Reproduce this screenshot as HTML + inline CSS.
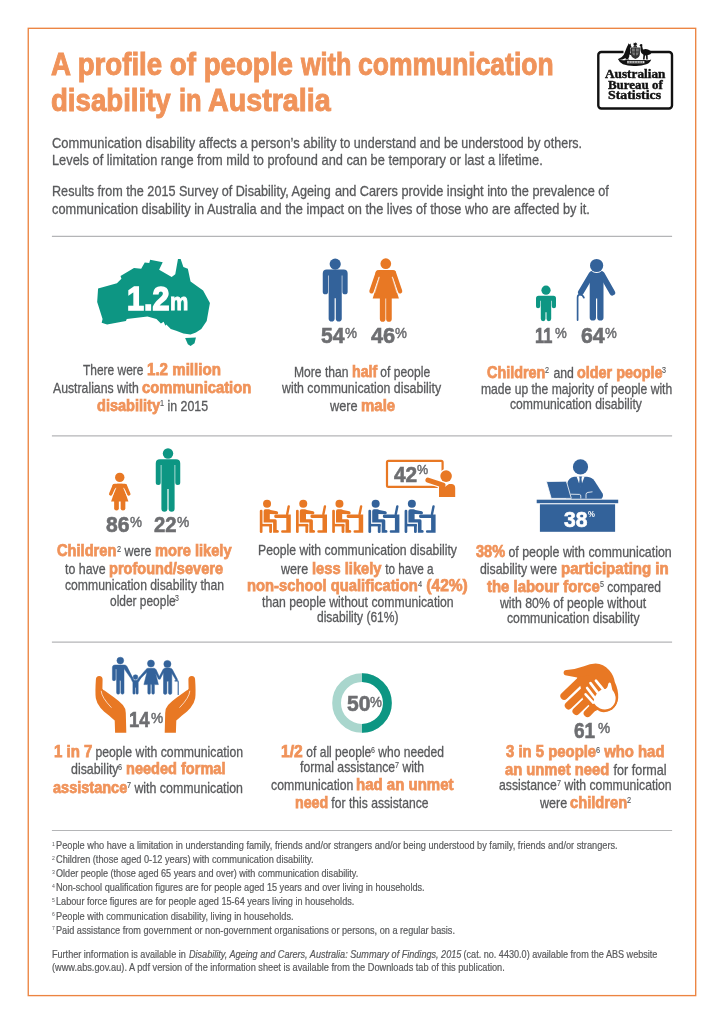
<!DOCTYPE html>
<html><head><meta charset="utf-8"><title>A profile of people with communication disability in Australia</title>
<style>
html,body{margin:0;padding:0;background:#fff;}
body{width:724px;height:1024px;position:relative;overflow:hidden;font-family:"Liberation Sans", sans-serif;}
.x{position:absolute;white-space:pre;line-height:1;transform-origin:0 50%;}
svg#art{position:absolute;left:0;top:0;}
#txt{position:absolute;left:0;top:0;width:724px;height:1024px;will-change:transform;}
</style></head><body>
<svg id="art" width="724" height="1024" viewBox="0 0 724 1024">
<g fill="none" stroke="#b4b5b7" stroke-width="1.2"><line x1="51.9" y1="236.4" x2="672.1" y2="236.4"/><line x1="51.9" y1="435.9" x2="672.1" y2="435.9"/><line x1="51.9" y1="642.1" x2="672.1" y2="642.1"/><line x1="51.9" y1="830.5" x2="672.1" y2="830.5"/></g>
<rect x="28.25" y="28.3" width="667.45" height="967.3" fill="none" stroke="#ec8441" stroke-width="1.35"/>
<polygon fill="#0d9683" points="98.08,288.6 116.93,283.21 121.42,278.73 120.52,276.03 133.99,267.95 141.17,268.85 144.76,262.57 149.25,262.93 150.14,259.87 162.71,262.21 159.12,269.75 171.69,276.93 175.28,274.24 177.97,258.98 180.66,258.98 183.36,267.06 187.85,268.85 190.54,281.42 203.11,290.39 209.93,302.96 208.49,311.04 206.7,320.92 201.31,328.99 195.92,332.59 190.54,334.38 183.36,333.48 176.18,330.79 170.79,328.99 166.3,324.51 165.4,325.76 163.61,321.81 160.92,323.61 156.43,319.12 147.45,316.43 126.8,319.12 125.91,320.92 107.06,324.51 101.67,322.71 102.57,319.12 97.18,302.06"/>
<polygon fill="#0d9683" points="185.15,337.97 195.92,337.61 194.49,343.36 190.54,346.05 187.85,344.25"/>
<g fill="#33629a"><circle cx="335.2" cy="264.1" r="5.6"/><path d="M322.75 273.4Q322.75 269.4 326.75 269.4L343.65 269.4Q347.65 269.4 347.65 273.4L347.65 291.65A2.65 2.65 0 0 1 342.35 291.65L342.35 275.5L341.75 275.5L341.75 318.72A2.98 2.98 0 0 1 335.8 318.72L335.8 298.3L334.6 298.3L334.6 318.72A2.98 2.98 0 0 1 328.65 318.72L328.65 275.5L328.05 275.5L328.05 291.65A2.65 2.65 0 0 1 322.75 291.65Z"/></g>
<g fill="#e87824"><circle cx="385.8" cy="263.7" r="5.35"/><rect x="375.6" y="270.1" width="20.4" height="6.6" rx="3.4"/><polygon points="381.5,270.1 390.1,270.1 398.9,298.6 372.7,298.6"/><line x1="377.8" y1="272.7" x2="371.5" y2="291.3" stroke="#e87824" stroke-width="4.4" stroke-linecap="round"/><line x1="393.8" y1="272.7" x2="400.1" y2="291.3" stroke="#e87824" stroke-width="4.4" stroke-linecap="round"/><path d="M379.85 297.6 L379.85 318.9 A2.8 2.8 0 0 0 385.45 318.9 L385.45 297.6 Z"/><path d="M386.15 297.6 L386.15 318.9 A2.8 2.8 0 0 0 391.75 318.9 L391.75 297.6 Z"/><line x1="379.4" y1="277.4" x2="374.8" y2="292.6" stroke="#fff" stroke-width="0.55" stroke-linecap="round" stroke-opacity="0.85"/><line x1="392.2" y1="277.4" x2="396.8" y2="292.6" stroke="#fff" stroke-width="0.55" stroke-linecap="round" stroke-opacity="0.85"/></g>
<g fill="#0d9683"><circle cx="546" cy="290.2" r="4.6"/><path d="M536 298.4Q536 295.8 538.6 295.8L553.4 295.8Q556 295.8 556 298.4L556 306.2A2.1 2.1 0 0 1 551.8 306.2L551.8 300.63L551.2 300.63L551.2 318.85A2.35 2.35 0 0 1 546.5 318.85L546.5 312.3L545.5 312.3L545.5 318.85A2.35 2.35 0 0 1 540.8 318.85L540.8 300.63L540.2 300.63L540.2 306.2A2.1 2.1 0 0 1 536 306.2Z"/></g>
<g fill="#33629a"><path d="M589.7 274.6Q589.7 270.6 593.7 270.6L599.5 270.6Q603.5 270.6 603.5 274.6L603.5 317.45A3.15 3.15 0 0 1 597.2 317.45L597.2 298.6L596 298.6L596 317.45A3.15 3.15 0 0 1 589.7 317.45 Z"/><line x1="591.6" y1="274.2" x2="580.9" y2="292.2" stroke="#33629a" stroke-width="5.8" stroke-linecap="round"/><line x1="601.8" y1="274.2" x2="612.3" y2="292.6" stroke="#33629a" stroke-width="5.8" stroke-linecap="round"/><path d="M577.6 320.1 L577.6 297.5 Q577.6 294.6 580 294.6 Q582.6 294.6 583.9 297.6" fill="none" stroke="#33629a" stroke-width="1.7" stroke-linecap="round"/><circle cx="596.6" cy="265.5" r="7.6" fill="#fff"/><circle cx="596.6" cy="265.5" r="6.6"/></g>
<g fill="#e87824"><circle cx="119.75" cy="477.4" r="4.7"/><rect x="112.4" y="483.8" width="14.7" height="5.4" rx="2.2"/><polygon points="117.15,483.8 122.35,483.8 128.4,501.6 111.1,501.6"/><line x1="114.2" y1="486" x2="110.8" y2="493.9" stroke="#e87824" stroke-width="3.6" stroke-linecap="round"/><line x1="125.3" y1="486" x2="128.7" y2="493.9" stroke="#e87824" stroke-width="3.6" stroke-linecap="round"/><path d="M114.15 500.6 L114.15 508.15 A2.35 2.35 0 0 0 118.85 508.15 L118.85 500.6 Z"/><path d="M120.65 500.6 L120.65 508.15 A2.35 2.35 0 0 0 125.35 508.15 L125.35 500.6 Z"/><line x1="115.75" y1="488.2" x2="112.55" y2="495.4" stroke="#fff" stroke-width="0.9" stroke-linecap="round" stroke-opacity="0.85"/><line x1="123.75" y1="488.2" x2="126.95" y2="495.4" stroke="#fff" stroke-width="0.9" stroke-linecap="round" stroke-opacity="0.85"/></g>
<g fill="#0d9683"><circle cx="168" cy="453.5" r="5.2"/><path d="M155.75 463.5Q155.75 459.3 159.95 459.3L176.05 459.3Q180.25 459.3 180.25 463.5L180.25 482.4A2.5 2.5 0 0 1 175.25 482.4L175.25 465.05L174.6 465.05L174.6 508.8A3 3 0 0 1 168.6 508.8L168.6 488.9L167.4 488.9L167.4 508.8A3 3 0 0 1 161.4 508.8L161.4 465.05L160.75 465.05L160.75 482.4A2.5 2.5 0 0 1 155.75 482.4Z"/></g>
<g fill="#e87824" transform="translate(0 0)"><circle cx="267.05" cy="503.85" r="4"/><rect x="259.8" y="509.7" width="2.7" height="23.3" rx="1.3"/><rect x="262" y="523.9" width="10" height="2.5"/><rect x="269.2" y="524" width="2.8" height="9" rx="1.3"/><path d="M263.6 511.2Q263.6 509.3 265.5 509.3L268.6 509.3Q269.8 509.3 270.6 509.9L277 511.3Q278.3 511.8 278.2 513Q278 514.3 276.8 514.3L269.8 514L269.8 519.2L275.2 519.2Q276.7 519.2 276.7 520.8L276.7 530L277.6 530Q278.9 530.1 278.9 531.4Q278.9 532.7 277.6 532.7L273.1 532.7L273.1 522.6L263.6 522.6Z"/><path d="M275.5 514.5L290.8 514.5L290.8 532.7L282.3 532.7Q281.1 532.7 281.1 531.5Q281.1 530.3 282.3 530.3L286.3 530.3L286.3 518.1L275.5 518.1Q274.2 518.1 274.2 516.3Q274.2 514.5 275.5 514.5Z"/><line x1="287.2" y1="514" x2="288.7" y2="506.5" stroke="#e87824" stroke-width="2.4" stroke-linecap="round"/></g>
<g fill="#e87824" transform="translate(36.2 0)"><circle cx="267.05" cy="503.85" r="4"/><rect x="259.8" y="509.7" width="2.7" height="23.3" rx="1.3"/><rect x="262" y="523.9" width="10" height="2.5"/><rect x="269.2" y="524" width="2.8" height="9" rx="1.3"/><path d="M263.6 511.2Q263.6 509.3 265.5 509.3L268.6 509.3Q269.8 509.3 270.6 509.9L277 511.3Q278.3 511.8 278.2 513Q278 514.3 276.8 514.3L269.8 514L269.8 519.2L275.2 519.2Q276.7 519.2 276.7 520.8L276.7 530L277.6 530Q278.9 530.1 278.9 531.4Q278.9 532.7 277.6 532.7L273.1 532.7L273.1 522.6L263.6 522.6Z"/><path d="M275.5 514.5L290.8 514.5L290.8 532.7L282.3 532.7Q281.1 532.7 281.1 531.5Q281.1 530.3 282.3 530.3L286.3 530.3L286.3 518.1L275.5 518.1Q274.2 518.1 274.2 516.3Q274.2 514.5 275.5 514.5Z"/><line x1="287.2" y1="514" x2="288.7" y2="506.5" stroke="#e87824" stroke-width="2.4" stroke-linecap="round"/></g>
<g fill="#e87824" transform="translate(72.4 0)"><circle cx="267.05" cy="503.85" r="4"/><rect x="259.8" y="509.7" width="2.7" height="23.3" rx="1.3"/><rect x="262" y="523.9" width="10" height="2.5"/><rect x="269.2" y="524" width="2.8" height="9" rx="1.3"/><path d="M263.6 511.2Q263.6 509.3 265.5 509.3L268.6 509.3Q269.8 509.3 270.6 509.9L277 511.3Q278.3 511.8 278.2 513Q278 514.3 276.8 514.3L269.8 514L269.8 519.2L275.2 519.2Q276.7 519.2 276.7 520.8L276.7 530L277.6 530Q278.9 530.1 278.9 531.4Q278.9 532.7 277.6 532.7L273.1 532.7L273.1 522.6L263.6 522.6Z"/><path d="M275.5 514.5L290.8 514.5L290.8 532.7L282.3 532.7Q281.1 532.7 281.1 531.5Q281.1 530.3 282.3 530.3L286.3 530.3L286.3 518.1L275.5 518.1Q274.2 518.1 274.2 516.3Q274.2 514.5 275.5 514.5Z"/><line x1="287.2" y1="514" x2="288.7" y2="506.5" stroke="#e87824" stroke-width="2.4" stroke-linecap="round"/></g>
<g fill="#33629a" transform="translate(108.6 0)"><circle cx="267.05" cy="503.85" r="4"/><rect x="259.8" y="509.7" width="2.7" height="23.3" rx="1.3"/><rect x="262" y="523.9" width="10" height="2.5"/><rect x="269.2" y="524" width="2.8" height="9" rx="1.3"/><path d="M263.6 511.2Q263.6 509.3 265.5 509.3L268.6 509.3Q269.8 509.3 270.6 509.9L277 511.3Q278.3 511.8 278.2 513Q278 514.3 276.8 514.3L269.8 514L269.8 519.2L275.2 519.2Q276.7 519.2 276.7 520.8L276.7 530L277.6 530Q278.9 530.1 278.9 531.4Q278.9 532.7 277.6 532.7L273.1 532.7L273.1 522.6L263.6 522.6Z"/><path d="M275.5 514.5L290.8 514.5L290.8 532.7L282.3 532.7Q281.1 532.7 281.1 531.5Q281.1 530.3 282.3 530.3L286.3 530.3L286.3 518.1L275.5 518.1Q274.2 518.1 274.2 516.3Q274.2 514.5 275.5 514.5Z"/><line x1="287.2" y1="514" x2="288.7" y2="506.5" stroke="#33629a" stroke-width="2.4" stroke-linecap="round"/></g>
<g fill="#33629a" transform="translate(144.8 0)"><circle cx="267.05" cy="503.85" r="4"/><rect x="259.8" y="509.7" width="2.7" height="23.3" rx="1.3"/><rect x="262" y="523.9" width="10" height="2.5"/><rect x="269.2" y="524" width="2.8" height="9" rx="1.3"/><path d="M263.6 511.2Q263.6 509.3 265.5 509.3L268.6 509.3Q269.8 509.3 270.6 509.9L277 511.3Q278.3 511.8 278.2 513Q278 514.3 276.8 514.3L269.8 514L269.8 519.2L275.2 519.2Q276.7 519.2 276.7 520.8L276.7 530L277.6 530Q278.9 530.1 278.9 531.4Q278.9 532.7 277.6 532.7L273.1 532.7L273.1 522.6L263.6 522.6Z"/><path d="M275.5 514.5L290.8 514.5L290.8 532.7L282.3 532.7Q281.1 532.7 281.1 531.5Q281.1 530.3 282.3 530.3L286.3 530.3L286.3 518.1L275.5 518.1Q274.2 518.1 274.2 516.3Q274.2 514.5 275.5 514.5Z"/><line x1="287.2" y1="514" x2="288.7" y2="506.5" stroke="#33629a" stroke-width="2.4" stroke-linecap="round"/></g>
<rect x="387" y="460.8" width="55.6" height="26" rx="1.4" fill="#fff" stroke="#e87824" stroke-width="2.2"/>
<circle cx="446.1" cy="476.1" r="7.1" fill="#fff"/>
<path d="M437.8 498 L437.8 483 L456.4 483 L456.4 498 Z" fill="#fff"/>
<line x1="442.6" y1="484.9" x2="427.9" y2="480.1" stroke="#fff" stroke-width="7.4" stroke-linecap="round"/>
<g fill="#e87824"><circle cx="446.1" cy="476.1" r="5.8"/><path d="M439 497 L439 487.5 Q439 484.5 441.5 484 L445 486.8 L449 484 L452 484 Q455.2 484.4 455.2 488 L455.2 497 Z"/><line x1="443" y1="485.2" x2="427.9" y2="480.1" stroke="#e87824" stroke-width="5.0" stroke-linecap="round"/></g>
<g fill="#33629a"><rect x="536.7" y="499.7" width="81.5" height="3.5"/><rect x="539.9" y="504.3" width="75.2" height="27.5"/><circle cx="580.5" cy="466.9" r="7.6"/><path d="M566 498.8 L567 484 Q568.5 477.5 574 476.8 L587 476.8 Q592 477.3 594.6 481 L602.6 493.5 Q603.8 496.5 601.5 498.8 Z"/><path d="M546.4 481.6 L566.4 481.2 L571.3 498.4 L551.2 498.4 Z" stroke="#fff" stroke-width="0.8"/></g><path d="M576.6 476.6 L580.5 487.2 L584.6 476.6 Z" fill="#fff"/><path d="M579.2 476.6 L581.9 476.6 L581.5 479 L582.3 485.5 L580.5 487.2 L578.8 485.5 L579.6 479 Z" fill="#33629a"/><path d="M570.5 494.2 L579.5 494.4 Q580.8 494.6 580.8 496 L580.8 498.5 M586 498.5 L586 494.6 Q586 492.6 588 492.4 L592.5 491.8" fill="none" stroke="#fff" stroke-width="0.8"/>
<circle cx="362" cy="703" r="25.4" fill="none" stroke="#a9d6cd" stroke-width="8.8"/>
<path d="M362 677.6 A25.4 25.4 0 0 1 362 728.4" fill="none" stroke="#0d9683" stroke-width="8.8"/>
<g id="handL"><path d="M95.9 679.5Q96 675.9 99.2 675.9Q102.6 675.9 102.6 679.5L102.4 688.7Q103.2 690 104.5 690.6L114.2 697.4Q120 701.5 122.9 705.1Q125.8 708.5 125.8 713L126.3 732.7L115.1 732.7L114.7 720.6Q111 717 109.3 715.7Q103 711 100.6 708Q96.5 703 95.8 698.3Q95 692 95.9 679.5Z" fill="#e87824"/><path d="M101.2 691.2Q101.6 697.5 111.2 707.4" fill="none" stroke="#fff" stroke-width="0.7" stroke-linecap="round"/></g>
<g transform="translate(291 0) scale(-1 1)"><path d="M95.9 679.5Q96 675.9 99.2 675.9Q102.6 675.9 102.6 679.5L102.4 688.7Q103.2 690 104.5 690.6L114.2 697.4Q120 701.5 122.9 705.1Q125.8 708.5 125.8 713L126.3 732.7L115.1 732.7L114.7 720.6Q111 717 109.3 715.7Q103 711 100.6 708Q96.5 703 95.8 698.3Q95 692 95.9 679.5Z" fill="#e87824"/><path d="M101.2 691.2Q101.6 697.5 111.2 707.4" fill="none" stroke="#fff" stroke-width="0.7" stroke-linecap="round"/></g>
<g fill="#33629a" stroke="#33629a" stroke-width="0.5" stroke-linejoin="round"><circle cx="120.3" cy="660.6" r="3.4"/><path d="M112.4 667.5Q112.4 665 114.9 665L124.6 665Q126.3 665 127 666.6L132.6 677.6L131 678.6L124 668.6L124 692.8Q124 694.2 122.4 694.2Q120.9 694.2 120.9 692.8L120.9 680.5L119.7 680.5L119.7 692.8Q119.7 694.2 118.2 694.2Q116.6 694.2 116.6 692.8L116.6 669L115.6 669L115.6 679.4Q115.6 680.7 114 680.7Q112.4 680.7 112.4 679.4Z"/><circle cx="135.5" cy="677.1" r="2.4"/><path d="M131 678.8L132.2 677.2L134 680.2L137.1 680.2L139.4 677L140.8 678.2L138.2 682.6L138.2 693.2Q138.2 694.2 137.1 694.2Q136 694.2 136 693.2L136 687.5L135.1 687.5L135.1 693.2Q135.1 694.2 134 694.2Q132.9 694.2 132.9 693.2L132.9 682.6Z"/><circle cx="150.95" cy="663.5" r="3.5"/><path d="M148.4 668.2L153.6 668.2Q155.4 668.2 156.2 669.8L160 678.2L158.6 679.2L155.6 673.4L158.4 684.6L154.4 684.6L154.4 693Q154.4 694.2 153.1 694.2Q151.8 694.2 151.8 693L151.8 684.6L150.4 684.6L150.4 693Q150.4 694.2 149.1 694.2Q147.8 694.2 147.8 693L147.8 684.6L143.9 684.6L147 672L140.6 678.6L139.3 677.2L146 669.4Q147 668.2 148.4 668.2Z"/><circle cx="167.4" cy="664" r="3.6"/><path d="M165.6 667.9L169.6 667.9Q171.6 667.9 172.4 669.6L177.6 679.6L176.2 680.6L171.8 673.2L171.8 693Q171.8 694.4 170.1 694.4Q168.5 694.4 168.5 693L168.5 681.2L166.9 681.2L166.9 693Q166.9 694.4 165.2 694.4Q163.5 694.4 163.5 693L163.5 672.6L160 679.4L158.4 678.4L163 669.6Q163.8 667.9 165.6 667.9Z"/></g><path d="M178.2 694.4L178.2 681.8Q178.2 680.6 177 680.6L175 680.9" fill="none" stroke="#33629a" stroke-width="1.1" stroke-linecap="round"/>
<g stroke="#e87824" stroke-linecap="round" fill="none"><line x1="584.5" y1="676.6" x2="564.2" y2="696.0" stroke-width="7.6"/><line x1="590.5" y1="684.7" x2="568.6" y2="705.6" stroke-width="7.6"/><line x1="596" y1="692.2" x2="576.3" y2="711.2" stroke-width="7.6"/><line x1="600" y1="700.3" x2="587.5" y2="713.3" stroke-width="7.6"/></g><path d="M566.5 669.9Q575 669.5 584 666.2Q590 663.6 595.6 663.6Q603.5 663.8 609 670Q613.6 675 614.8 682Q618.6 690 618.2 698Q617.6 705 612 709.6Q606 713.4 600 711.6L596 709L594 702L584 688L578 681L577.2 677.5L566.5 675.6Q563.6 675 563.6 672.7Q563.6 670.1 566.5 669.9Z" fill="#e87824"/><polygon points="577.3,677.6 580.6,686.9 582.6,698.4 588.8,705.2 594.7,711.2 602,708 606,690 590,675" fill="#e87824"/><path d="M608.4 683.4Q609.6 681.4 610.9 683.4L612.4 690Q615.8 694 615.6 699Q615.3 704.5 610.6 708Q605.5 710.6 600 708.4Q596 706.4 593.3 702.4L594.5 697.6L597.5 692.4L602.7 688.8L605.6 689Q607.6 687.6 607.8 685.8Z" fill="#e87824" stroke="#e87824" stroke-width="4.2" stroke-linejoin="round"/><path d="M608.4 683.4Q609.6 681.4 610.9 683.4L612.4 690Q615.8 694 615.6 699Q615.3 704.5 610.6 708Q605.5 710.6 600 708.4Q596 706.4 593.3 702.4L594.5 697.6L597.5 692.4L602.7 688.8L605.6 689Q607.6 687.6 607.8 685.8Z" fill="#fff"/><g stroke="#fff" stroke-linecap="round" stroke-width="2.6"><line x1="602.7" y1="688.8" x2="595.9" y2="680.7"/><line x1="597.5" y1="692.4" x2="590.5" y2="683.1"/><line x1="594.5" y1="697.6" x2="587.1" y2="688.0"/><line x1="593.2" y1="702.6" x2="585.6" y2="694.3"/></g>
<rect x="598.3" y="52" width="73.7" height="56.5" rx="3" fill="#fff" stroke="#111" stroke-width="2.4"/>
<g fill="#111" stroke="none"><rect x="623.5" y="49" width="26" height="6" fill="#fff"/><polygon points="635.20,41.90 635.72,43.32 637.15,42.84 636.37,44.13 637.64,44.96 636.14,45.15 636.28,46.65 635.20,45.60 634.12,46.65 634.26,45.15 632.76,44.96 634.03,44.13 633.25,42.84 634.68,43.32"/><rect x="633.4" y="46.2" width="3.6" height="1.2"/><path d="M628.6 43.2L629.5 44.6L630.6 43.4L630.8 45.4Q631.8 46.4 631.2 47.4L630.2 47.8Q631.4 50.6 630.2 53L631.4 54L630.8 55L629.4 54.6Q629.6 57 628.2 58.4L629.4 59.6L625.4 59.6L625.8 58Q622.6 60 618.4 60L618.2 59Q622 58 623.8 54.8Q625 52 626.2 48.8Q627.2 46 628 45Z"/><path d="M640.4 44.2Q641.8 43.6 642.4 44.8L642.2 46.2Q642.6 48.2 643 49.6Q645.4 48.6 648 49.4Q650.8 50.4 651.6 52.4Q650.8 54.8 648.2 55L647.6 55L647.8 59.6L646.2 59.6L646 55.4L645 55.4L644.6 59.6L643 59.6L643.4 54.8Q641 53.8 640.6 51Q640.2 48 640.6 46.4L639.4 45.6Z"/><path d="M630.9 47.4L639.9 47.4L639.9 54Q639.9 57.4 635.4 59Q630.9 57.4 630.9 54Z" fill="#333"/><path d="M632 48.6L634.8 48.6L634.8 51.4L632 51.4ZM636 48.6L638.8 48.6L638.8 51.4L636 51.4ZM632 52.6L634.8 52.6L634.8 55.6L633 55ZM636 52.6L638.8 52.6L637.8 55L636 55.6Z" fill="#777"/><path d="M618.3 59.6Q622 60.6 626 60L645 60Q649 60.6 651.2 59.4Q650.4 62.6 646.4 64.2Q641 66.2 635 66Q628 66.2 623 64.2Q619.2 62.6 618.3 59.6Z"/><rect x="627" y="60.9" width="17.4" height="2.4" fill="#ddd"/><path d="M628 61.4V62.8M629.6 61.4V62.8M631.2 61.4V62.8M632.8 61.4V62.8M634.4 61.4V62.8M636 61.4V62.8M637.6 61.4V62.8M639.2 61.4V62.8M640.8 61.4V62.8M642.4 61.4V62.8" stroke="#222" stroke-width="0.8" fill="none"/></g>
</svg>
<div id="txt">
<div class="x" style="left:51.20px;top:48.60px;font-size:31.5px;font-weight:700;color:#f0935a;-webkit-text-stroke:1.0px #f0935a;transform:scaleX(0.8782)">A profile of people </div>
<div class="x" style="left:300.70px;top:48.60px;font-size:31.5px;font-weight:700;color:#f0935a;-webkit-text-stroke:1.0px #f0935a;transform:scaleX(0.7986)">with </div>
<div class="x" style="left:358.00px;top:48.60px;font-size:31.5px;font-weight:700;color:#f0935a;-webkit-text-stroke:1.0px #f0935a;transform:scaleX(0.8403)">communication</div>
<div class="x" style="left:51.20px;top:84.50px;font-size:31.5px;font-weight:700;color:#f0935a;-webkit-text-stroke:1.0px #f0935a;transform:scaleX(0.8768)">disability </div>
<div class="x" style="left:178.60px;top:84.50px;font-size:31.5px;font-weight:700;color:#f0935a;-webkit-text-stroke:1.0px #f0935a;transform:scaleX(0.8109)">in </div>
<div class="x" style="left:208.40px;top:84.50px;font-size:31.5px;font-weight:700;color:#f0935a;-webkit-text-stroke:1.0px #f0935a;transform:scaleX(0.9102)">Australia</div>
<div class="x" style="left:52.20px;top:136.30px;font-size:14.3px;color:#595a5c;-webkit-text-stroke:0.3px #595a5c;transform:scaleX(0.9053)">Communication disability affects a person’s ability </div>
<div class="x" style="left:340.20px;top:136.30px;font-size:14.3px;color:#595a5c;-webkit-text-stroke:0.3px #595a5c;transform:scaleX(0.8724)">to understand and be understood by others.</div>
<div class="x" style="left:52.20px;top:153.30px;font-size:14.3px;color:#595a5c;-webkit-text-stroke:0.3px #595a5c;transform:scaleX(0.8949)">Levels of limitation range from mild to profound and can be temporary or last a lifetime.</div>
<div class="x" style="left:52.20px;top:184.20px;font-size:14.3px;color:#595a5c;-webkit-text-stroke:0.3px #595a5c;transform:scaleX(0.8825)">Results from the 2015 Survey of Disability, Ageing </div>
<div class="x" style="left:334.60px;top:184.20px;font-size:14.3px;color:#595a5c;-webkit-text-stroke:0.3px #595a5c;transform:scaleX(0.8905)">and Carers provide insight into the prevalence of</div>
<div class="x" style="left:52.20px;top:201.50px;font-size:14.3px;color:#595a5c;-webkit-text-stroke:0.3px #595a5c;transform:scaleX(0.8945)">communication disability in Australia and the impact on the lives of those who are affected by it.</div>
<div class="x" style="left:82.90px;top:363.70px;font-size:13.9px;color:#595a5c;-webkit-text-stroke:0.3px #595a5c;transform:scaleX(0.8607)">There were </div>
<div class="x" style="left:146.70px;top:360.62px;font-size:16.5px;font-weight:700;color:#f0935a;-webkit-text-stroke:0.75px #f0935a;transform:scaleX(0.9159)">1.2 million</div>
<div class="x" style="left:52.50px;top:381.60px;font-size:13.9px;color:#595a5c;-webkit-text-stroke:0.3px #595a5c;transform:scaleX(0.8819)">Australians with </div>
<div class="x" style="left:141.70px;top:378.52px;font-size:16.5px;font-weight:700;color:#f0935a;-webkit-text-stroke:0.75px #f0935a;transform:scaleX(0.8964)">communication</div>
<div class="x" style="left:96.50px;top:396.52px;font-size:16.5px;font-weight:700;color:#f0935a;-webkit-text-stroke:0.75px #f0935a;transform:scaleX(0.8807)">disability</div>
<div class="x" style="left:159.50px;top:398.93px;font-size:9.0px;color:#595a5c;-webkit-text-stroke:0.15px #595a5c;transform:scaleX(0.8098)">1</div>
<div class="x" style="left:163.56px;top:399.60px;font-size:13.9px;color:#595a5c;-webkit-text-stroke:0.3px #595a5c;transform:scaleX(0.8908)"> in 2015</div>
<div class="x" style="left:293.80px;top:365.90px;font-size:13.9px;color:#595a5c;-webkit-text-stroke:0.3px #595a5c;transform:scaleX(0.8706)">More than </div>
<div class="x" style="left:351.61px;top:362.82px;font-size:16.5px;font-weight:700;color:#f0935a;-webkit-text-stroke:0.75px #f0935a;transform:scaleX(0.8607)">half</div>
<div class="x" style="left:376.87px;top:365.90px;font-size:13.9px;color:#595a5c;-webkit-text-stroke:0.3px #595a5c;transform:scaleX(0.8706)"> of people</div>
<div class="x" style="left:282.20px;top:381.80px;font-size:13.9px;color:#595a5c;-webkit-text-stroke:0.3px #595a5c;transform:scaleX(0.8883)">with communication disability</div>
<div class="x" style="left:329.50px;top:400.10px;font-size:13.9px;color:#595a5c;-webkit-text-stroke:0.3px #595a5c;transform:scaleX(0.9178)">were </div>
<div class="x" style="left:360.68px;top:397.02px;font-size:16.5px;font-weight:700;color:#f0935a;-webkit-text-stroke:0.75px #f0935a;transform:scaleX(0.9073)">male</div>
<div class="x" style="left:487.20px;top:363.52px;font-size:16.5px;font-weight:700;color:#f0935a;-webkit-text-stroke:0.75px #f0935a;transform:scaleX(0.8710)">Children</div>
<div class="x" style="left:545.49px;top:365.93px;font-size:9.0px;color:#595a5c;-webkit-text-stroke:0.15px #595a5c;transform:scaleX(0.8009)">2</div>
<div class="x" style="left:549.50px;top:366.60px;font-size:13.9px;color:#595a5c;-webkit-text-stroke:0.3px #595a5c;transform:scaleX(0.8810)"> and </div>
<div class="x" style="left:576.73px;top:363.52px;font-size:16.5px;font-weight:700;color:#f0935a;-webkit-text-stroke:0.75px #f0935a;transform:scaleX(0.8710)">older people</div>
<div class="x" style="left:662.18px;top:365.93px;font-size:9.0px;color:#595a5c;-webkit-text-stroke:0.15px #595a5c;transform:scaleX(0.8009)">3</div>
<div class="x" style="left:480.90px;top:382.50px;font-size:13.9px;color:#595a5c;-webkit-text-stroke:0.3px #595a5c;transform:scaleX(0.8719)">made up the majority of people with</div>
<div class="x" style="left:510.40px;top:398.40px;font-size:13.9px;color:#595a5c;-webkit-text-stroke:0.3px #595a5c;transform:scaleX(0.8761)">communication disability</div>
<div class="x" style="left:57.20px;top:542.33px;font-size:16.5px;font-weight:700;color:#f0935a;-webkit-text-stroke:0.75px #f0935a;transform:scaleX(0.8877)">Children</div>
<div class="x" style="left:116.61px;top:544.72px;font-size:9.0px;color:#595a5c;-webkit-text-stroke:0.15px #595a5c;transform:scaleX(0.8163)">2</div>
<div class="x" style="left:120.70px;top:545.40px;font-size:13.9px;color:#595a5c;-webkit-text-stroke:0.3px #595a5c;transform:scaleX(0.8979)"> were </div>
<div class="x" style="left:154.66px;top:542.33px;font-size:16.5px;font-weight:700;color:#f0935a;-webkit-text-stroke:0.75px #f0935a;transform:scaleX(0.8877)">more likely</div>
<div class="x" style="left:64.90px;top:562.90px;font-size:13.9px;color:#595a5c;-webkit-text-stroke:0.3px #595a5c;transform:scaleX(0.8920)">to have </div>
<div class="x" style="left:109.00px;top:559.83px;font-size:16.5px;font-weight:700;color:#f0935a;-webkit-text-stroke:0.75px #f0935a;transform:scaleX(0.8818)">profound/severe</div>
<div class="x" style="left:64.90px;top:579.20px;font-size:13.9px;color:#595a5c;-webkit-text-stroke:0.3px #595a5c;transform:scaleX(0.8768)">communication disability than</div>
<div class="x" style="left:109.60px;top:595.10px;font-size:13.9px;color:#595a5c;-webkit-text-stroke:0.3px #595a5c;transform:scaleX(0.8590)">older people</div>
<div class="x" style="left:175.28px;top:594.42px;font-size:9.0px;color:#595a5c;-webkit-text-stroke:0.15px #595a5c;transform:scaleX(0.7809)">3</div>
<div class="x" style="left:258.20px;top:544.40px;font-size:13.9px;color:#595a5c;-webkit-text-stroke:0.3px #595a5c;transform:scaleX(0.8792)">People with communication disability</div>
<div class="x" style="left:281.40px;top:562.60px;font-size:13.9px;color:#595a5c;-webkit-text-stroke:0.3px #595a5c;transform:scaleX(0.9022)">were </div>
<div class="x" style="left:312.05px;top:559.53px;font-size:16.5px;font-weight:700;color:#f0935a;-webkit-text-stroke:0.75px #f0935a;transform:scaleX(0.8919)">less likely</div>
<div class="x" style="left:381.60px;top:562.60px;font-size:13.9px;color:#595a5c;-webkit-text-stroke:0.3px #595a5c;transform:scaleX(0.8457)"> to have a</div>
<div class="x" style="left:247.30px;top:577.12px;font-size:16.5px;font-weight:700;color:#f0935a;-webkit-text-stroke:0.75px #f0935a;transform:scaleX(0.8956)">non-school qualification</div>
<div class="x" style="left:418.07px;top:579.52px;font-size:9.0px;color:#595a5c;-webkit-text-stroke:0.15px #595a5c;transform:scaleX(0.8236)">4</div>
<div class="x" style="left:422.20px;top:577.12px;font-size:16.5px;font-weight:700;color:#f0935a;-webkit-text-stroke:0.75px #f0935a;transform:scaleX(0.9422)"> (42%)</div>
<div class="x" style="left:261.50px;top:596.30px;font-size:13.9px;color:#595a5c;-webkit-text-stroke:0.3px #595a5c;transform:scaleX(0.8798)">than people without communication</div>
<div class="x" style="left:316.90px;top:611.40px;font-size:13.9px;color:#595a5c;-webkit-text-stroke:0.3px #595a5c;transform:scaleX(0.8653)">disability (61%)</div>
<div class="x" style="left:475.60px;top:542.62px;font-size:16.5px;font-weight:700;color:#f0935a;-webkit-text-stroke:0.75px #f0935a;transform:scaleX(0.8823)">38%</div>
<div class="x" style="left:504.74px;top:545.70px;font-size:13.9px;color:#595a5c;-webkit-text-stroke:0.3px #595a5c;transform:scaleX(0.8924)"> of people with communication</div>
<div class="x" style="left:479.90px;top:562.90px;font-size:13.9px;color:#595a5c;-webkit-text-stroke:0.3px #595a5c;transform:scaleX(0.8847)">disability were </div>
<div class="x" style="left:560.50px;top:559.83px;font-size:16.5px;font-weight:700;color:#f0935a;-webkit-text-stroke:0.75px #f0935a;transform:scaleX(0.9107)">participating in</div>
<div class="x" style="left:487.20px;top:577.73px;font-size:16.5px;font-weight:700;color:#f0935a;-webkit-text-stroke:0.75px #f0935a;transform:scaleX(0.9039)">the labour force</div>
<div class="x" style="left:600.30px;top:580.12px;font-size:9.0px;color:#595a5c;-webkit-text-stroke:0.15px #595a5c;transform:scaleX(0.8000)">5</div>
<div class="x" style="left:603.60px;top:580.80px;font-size:13.9px;color:#595a5c;-webkit-text-stroke:0.3px #595a5c;transform:scaleX(0.8668)"> compared</div>
<div class="x" style="left:500.40px;top:596.80px;font-size:13.9px;color:#595a5c;-webkit-text-stroke:0.3px #595a5c;transform:scaleX(0.8847)">with 80% of people without</div>
<div class="x" style="left:507.40px;top:611.90px;font-size:13.9px;color:#595a5c;-webkit-text-stroke:0.3px #595a5c;transform:scaleX(0.8808)">communication disability</div>
<div class="x" style="left:53.50px;top:743.03px;font-size:16.5px;font-weight:700;color:#f0935a;-webkit-text-stroke:0.75px #f0935a;transform:scaleX(0.9102)">1 in 7</div>
<div class="x" style="left:91.90px;top:746.10px;font-size:13.9px;color:#595a5c;-webkit-text-stroke:0.3px #595a5c;transform:scaleX(0.8809)"> people with communication</div>
<div class="x" style="left:70.50px;top:763.20px;font-size:13.9px;color:#595a5c;-webkit-text-stroke:0.3px #595a5c;transform:scaleX(0.8920)">disability</div>
<div class="x" style="left:118.03px;top:762.52px;font-size:9.0px;color:#595a5c;-webkit-text-stroke:0.15px #595a5c;transform:scaleX(0.8109)">6</div>
<div class="x" style="left:122.09px;top:760.12px;font-size:16.5px;font-weight:700;color:#f0935a;-webkit-text-stroke:0.75px #f0935a;transform:scaleX(0.8818)"> needed formal</div>
<div class="x" style="left:52.60px;top:778.83px;font-size:16.5px;font-weight:700;color:#f0935a;-webkit-text-stroke:0.75px #f0935a;transform:scaleX(0.8798)">assistance</div>
<div class="x" style="left:126.86px;top:781.22px;font-size:9.0px;color:#595a5c;-webkit-text-stroke:0.15px #595a5c;transform:scaleX(0.8090)">7</div>
<div class="x" style="left:130.91px;top:781.90px;font-size:13.9px;color:#595a5c;-webkit-text-stroke:0.3px #595a5c;transform:scaleX(0.8899)"> with communication</div>
<div class="x" style="left:280.90px;top:743.23px;font-size:16.5px;font-weight:700;color:#f0935a;-webkit-text-stroke:0.75px #f0935a;transform:scaleX(0.9460)">1/2</div>
<div class="x" style="left:302.60px;top:746.30px;font-size:13.9px;color:#595a5c;-webkit-text-stroke:0.3px #595a5c;transform:scaleX(0.8668)"> of all people</div>
<div class="x" style="left:370.89px;top:745.62px;font-size:9.0px;color:#595a5c;-webkit-text-stroke:0.15px #595a5c;transform:scaleX(0.7880)">6</div>
<div class="x" style="left:374.84px;top:746.30px;font-size:13.9px;color:#595a5c;-webkit-text-stroke:0.3px #595a5c;transform:scaleX(0.8668)"> who needed</div>
<div class="x" style="left:299.70px;top:761.30px;font-size:13.9px;color:#595a5c;-webkit-text-stroke:0.3px #595a5c;transform:scaleX(0.8802)">formal assistance</div>
<div class="x" style="left:394.85px;top:760.62px;font-size:9.0px;color:#595a5c;-webkit-text-stroke:0.15px #595a5c;transform:scaleX(0.8002)">7</div>
<div class="x" style="left:398.86px;top:761.30px;font-size:13.9px;color:#595a5c;-webkit-text-stroke:0.3px #595a5c;transform:scaleX(0.8802)"> with</div>
<div class="x" style="left:270.50px;top:779.40px;font-size:13.9px;color:#595a5c;-webkit-text-stroke:0.3px #595a5c;transform:scaleX(0.8820)">communication </div>
<div class="x" style="left:356.30px;top:776.33px;font-size:16.5px;font-weight:700;color:#f0935a;-webkit-text-stroke:0.75px #f0935a;transform:scaleX(0.9090)">had an unmet</div>
<div class="x" style="left:295.20px;top:793.83px;font-size:16.5px;font-weight:700;color:#f0935a;-webkit-text-stroke:0.75px #f0935a;transform:scaleX(0.8632)">need</div>
<div class="x" style="left:328.45px;top:796.90px;font-size:13.9px;color:#595a5c;-webkit-text-stroke:0.3px #595a5c;transform:scaleX(0.8731)"> for this assistance</div>
<div class="x" style="left:505.70px;top:743.23px;font-size:16.5px;font-weight:700;color:#f0935a;-webkit-text-stroke:0.75px #f0935a;transform:scaleX(0.9019)">3 in 5 people</div>
<div class="x" style="left:595.85px;top:745.62px;font-size:9.0px;color:#595a5c;-webkit-text-stroke:0.15px #595a5c;transform:scaleX(0.8294)">6</div>
<div class="x" style="left:600.01px;top:743.23px;font-size:16.5px;font-weight:700;color:#f0935a;-webkit-text-stroke:0.75px #f0935a;transform:scaleX(0.9019)"> who had</div>
<div class="x" style="left:505.40px;top:761.23px;font-size:16.5px;font-weight:700;color:#f0935a;-webkit-text-stroke:0.75px #f0935a;transform:scaleX(0.8949)">an unmet need</div>
<div class="x" style="left:609.60px;top:764.30px;font-size:13.9px;color:#595a5c;-webkit-text-stroke:0.3px #595a5c;transform:scaleX(0.9052)"> for formal</div>
<div class="x" style="left:499.10px;top:779.40px;font-size:13.9px;color:#595a5c;-webkit-text-stroke:0.3px #595a5c;transform:scaleX(0.8794)">assistance</div>
<div class="x" style="left:556.82px;top:778.72px;font-size:9.0px;color:#595a5c;-webkit-text-stroke:0.15px #595a5c;transform:scaleX(0.7994)">7</div>
<div class="x" style="left:560.83px;top:779.40px;font-size:13.9px;color:#595a5c;-webkit-text-stroke:0.3px #595a5c;transform:scaleX(0.8794)"> with communication</div>
<div class="x" style="left:539.50px;top:796.90px;font-size:13.9px;color:#595a5c;-webkit-text-stroke:0.3px #595a5c;transform:scaleX(0.9011)">were </div>
<div class="x" style="left:570.11px;top:793.83px;font-size:16.5px;font-weight:700;color:#f0935a;-webkit-text-stroke:0.75px #f0935a;transform:scaleX(0.8909)">children</div>
<div class="x" style="left:627.29px;top:796.22px;font-size:9.0px;color:#595a5c;-webkit-text-stroke:0.15px #595a5c;transform:scaleX(0.8192)">2</div>
<div class="x" style="left:321.20px;top:324.70px;font-size:21.7px;font-weight:700;color:#6d6e71;-webkit-text-stroke:0.6px #6d6e71;transform:scaleX(0.9741)">54</div>
<div class="x" style="left:344.80px;top:326.35px;font-size:14.5px;color:#6d6e71;-webkit-text-stroke:0.5px #6d6e71;transform:scaleX(0.9298)">%</div>
<div class="x" style="left:370.90px;top:324.70px;font-size:21.7px;font-weight:700;color:#6d6e71;-webkit-text-stroke:0.6px #6d6e71;transform:scaleX(1.0031)">46</div>
<div class="x" style="left:394.90px;top:326.35px;font-size:14.5px;color:#6d6e71;-webkit-text-stroke:0.5px #6d6e71;transform:scaleX(0.9220)">%</div>
<div class="x" style="left:534.90px;top:324.70px;font-size:21.7px;font-weight:700;color:#6d6e71;-webkit-text-stroke:0.6px #6d6e71;transform:scaleX(0.7586)">11</div>
<div class="x" style="left:555.20px;top:326.35px;font-size:14.5px;color:#6d6e71;-webkit-text-stroke:0.5px #6d6e71;transform:scaleX(0.9143)">%</div>
<div class="x" style="left:581.40px;top:324.70px;font-size:21.7px;font-weight:700;color:#6d6e71;-webkit-text-stroke:0.6px #6d6e71;transform:scaleX(0.9824)">64</div>
<div class="x" style="left:605.20px;top:326.35px;font-size:14.5px;color:#6d6e71;-webkit-text-stroke:0.5px #6d6e71;transform:scaleX(0.9143)">%</div>
<div class="x" style="left:106.20px;top:513.80px;font-size:21.7px;font-weight:700;color:#6d6e71;-webkit-text-stroke:0.6px #6d6e71;transform:scaleX(0.9741)">86</div>
<div class="x" style="left:129.80px;top:515.45px;font-size:14.5px;color:#6d6e71;-webkit-text-stroke:0.5px #6d6e71;transform:scaleX(0.9298)">%</div>
<div class="x" style="left:154.10px;top:513.80px;font-size:21.7px;font-weight:700;color:#6d6e71;-webkit-text-stroke:0.6px #6d6e71;transform:scaleX(0.9368)">22</div>
<div class="x" style="left:176.70px;top:515.45px;font-size:14.5px;color:#6d6e71;-webkit-text-stroke:0.5px #6d6e71;transform:scaleX(0.9530)">%</div>
<div class="x" style="left:394.10px;top:464.00px;font-size:21.7px;font-weight:700;color:#6d6e71;-webkit-text-stroke:0.6px #6d6e71;transform:scaleX(0.9617)">42</div>
<div class="x" style="left:417.10px;top:462.95px;font-size:13.4px;color:#6d6e71;-webkit-text-stroke:0.5px #6d6e71;transform:scaleX(0.9394)">%</div>
<div class="x" style="left:563.80px;top:508.50px;font-size:21.7px;font-weight:700;color:#fff;-webkit-text-stroke:0.6px #fff;transform:scaleX(0.9741)">38</div>
<div class="x" style="left:587.70px;top:510.10px;font-size:9.2px;font-weight:700;color:#fff;transform:scaleX(0.8444)">%</div>
<div class="x" style="left:129.40px;top:709.30px;font-size:21.7px;font-weight:700;color:#6d6e71;-webkit-text-stroke:0.6px #6d6e71;transform:scaleX(0.8539)">14</div>
<div class="x" style="left:150.50px;top:711.25px;font-size:14.5px;color:#6d6e71;-webkit-text-stroke:0.5px #6d6e71;transform:scaleX(0.9453)">%</div>
<div class="x" style="left:346.50px;top:693.10px;font-size:21.7px;font-weight:700;color:#6d6e71;-webkit-text-stroke:0.6px #6d6e71;transform:scaleX(0.9741)">50</div>
<div class="x" style="left:369.80px;top:695.15px;font-size:14.5px;color:#6d6e71;-webkit-text-stroke:0.5px #6d6e71;transform:scaleX(0.9220)">%</div>
<div class="x" style="left:574.30px;top:719.50px;font-size:21.7px;font-weight:700;color:#6d6e71;-webkit-text-stroke:0.6px #6d6e71;transform:scaleX(0.8746)">61</div>
<div class="x" style="left:598.00px;top:721.35px;font-size:14.5px;color:#6d6e71;-webkit-text-stroke:0.5px #6d6e71;transform:scaleX(0.9453)">%</div>
<div class="x" style="left:127.30px;top:281.90px;font-size:33.4px;font-weight:700;color:#fff;-webkit-text-stroke:1.6px #fff;transform:scaleX(0.9134)">1.2</div>
<div class="x" style="left:170.30px;top:290.25px;font-size:24px;font-weight:700;color:#fff;-webkit-text-stroke:0.9px #fff;transform:scaleX(0.8574)">m</div>
<div class="x" style="left:52.30px;top:841.00px;font-size:6.0px;color:#595a5c;transform:scaleX(0.8500)">1</div>
<div class="x" style="left:56.00px;top:841.20px;font-size:10.2px;color:#595a5c;-webkit-text-stroke:0.2px #595a5c;transform:scaleX(0.9038)">People who have a limitation in understanding family, friends and/or strangers and/or being understood by family, friends and/or strangers.</div>
<div class="x" style="left:52.30px;top:855.07px;font-size:6.0px;color:#595a5c;transform:scaleX(0.8500)">2</div>
<div class="x" style="left:56.00px;top:855.27px;font-size:10.2px;color:#595a5c;-webkit-text-stroke:0.2px #595a5c;transform:scaleX(0.9029)">Children (those aged 0-12 years) with communication disability.</div>
<div class="x" style="left:52.30px;top:869.14px;font-size:6.0px;color:#595a5c;transform:scaleX(0.8500)">3</div>
<div class="x" style="left:56.00px;top:869.34px;font-size:10.2px;color:#595a5c;-webkit-text-stroke:0.2px #595a5c;transform:scaleX(0.8914)">Older people (those aged 65 years and over) with communication disability.</div>
<div class="x" style="left:52.30px;top:883.21px;font-size:6.0px;color:#595a5c;transform:scaleX(0.8500)">4</div>
<div class="x" style="left:56.00px;top:883.41px;font-size:10.2px;color:#595a5c;-webkit-text-stroke:0.2px #595a5c;transform:scaleX(0.8953)">Non-school qualification figures are for people aged 15 years and over living in households.</div>
<div class="x" style="left:52.30px;top:897.28px;font-size:6.0px;color:#595a5c;transform:scaleX(0.8500)">5</div>
<div class="x" style="left:56.00px;top:897.48px;font-size:10.2px;color:#595a5c;-webkit-text-stroke:0.2px #595a5c;transform:scaleX(0.8958)">Labour force figures are for people aged 15-64 years living in households.</div>
<div class="x" style="left:52.30px;top:911.35px;font-size:6.0px;color:#595a5c;transform:scaleX(0.8500)">6</div>
<div class="x" style="left:56.00px;top:911.55px;font-size:10.2px;color:#595a5c;-webkit-text-stroke:0.2px #595a5c;transform:scaleX(0.9049)">People with communication disability, living in households.</div>
<div class="x" style="left:52.30px;top:925.42px;font-size:6.0px;color:#595a5c;transform:scaleX(0.8500)">7</div>
<div class="x" style="left:56.00px;top:925.62px;font-size:10.2px;color:#595a5c;-webkit-text-stroke:0.2px #595a5c;transform:scaleX(0.8987)">Paid assistance from government or non-government organisations or persons, on a regular basis.</div>
<div class="x" style="left:52.40px;top:949.50px;font-size:10.2px;color:#595a5c;-webkit-text-stroke:0.2px #595a5c;transform:scaleX(0.8916)">Further information is available in </div>
<div class="x" style="left:188.71px;top:949.50px;font-size:10.2px;font-style:italic;color:#595a5c;-webkit-text-stroke:0.2px #595a5c;transform:scaleX(0.8916)">Disability, Ageing and Carers, Australia: Summary of Findings, 2015</div>
<div class="x" style="left:460.99px;top:949.50px;font-size:10.2px;color:#595a5c;-webkit-text-stroke:0.2px #595a5c;transform:scaleX(0.8916)"> (cat. no. 4430.0) available from the ABS website</div>
<div class="x" style="left:52.40px;top:962.90px;font-size:10.2px;color:#595a5c;-webkit-text-stroke:0.2px #595a5c;transform:scaleX(0.9028)">(www.abs.gov.au). A pdf version of the information sheet is available from the Downloads tab of this publication.</div>
<div class="x" style="left:604.80px;top:67.90px;font-size:12.9px;font-weight:700;color:#111;font-family:'Liberation Serif',serif;-webkit-text-stroke:0.4px #111;transform:scaleX(1.0284)">Australian</div>
<div class="x" style="left:607.80px;top:78.80px;font-size:12.9px;font-weight:700;color:#111;font-family:'Liberation Serif',serif;-webkit-text-stroke:0.4px #111;transform:scaleX(1.0025)">Bureau of</div>
<div class="x" style="left:608.40px;top:89.20px;font-size:12.9px;font-weight:700;color:#111;font-family:'Liberation Serif',serif;-webkit-text-stroke:0.4px #111;transform:scaleX(1.0744)">Statistics</div>
</div>
</body></html>
